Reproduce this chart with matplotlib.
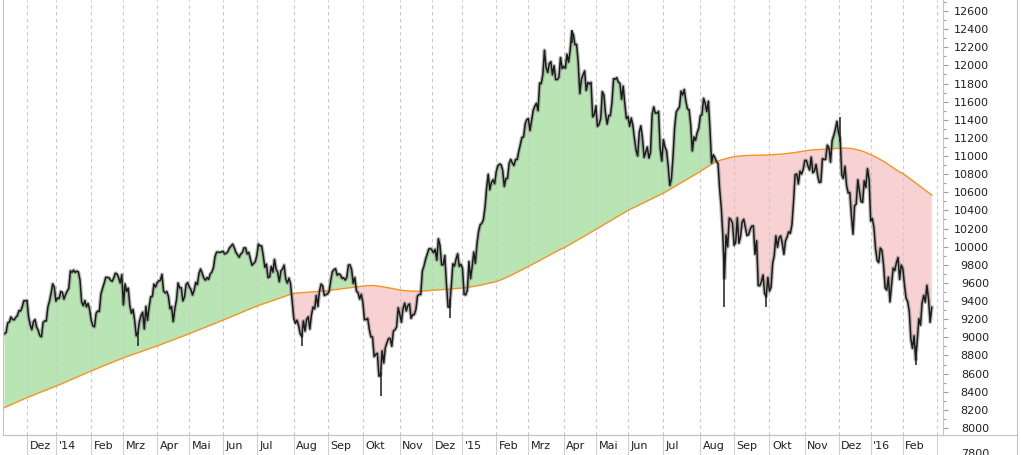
import numpy as np
import pandas as pd
import matplotlib
matplotlib.use("Agg")
import matplotlib.pyplot as plt
from matplotlib.lines import Line2D
from matplotlib.ticker import MultipleLocator
from matplotlib.transforms import ScaledTranslation

# trading calendar (Xetra), the axis runs a few days past the last bar
START, END, AXIS_END = "2013-11-12", "2016-02-25", "2016-03-04"
HOLIDAYS = ["2013-12-24", "2013-12-25", "2013-12-26", "2013-12-31", "2014-01-01",
            "2014-04-18", "2014-04-21", "2014-05-01", "2014-12-24", "2014-12-25",
            "2014-12-26", "2014-12-31", "2015-01-01", "2015-04-03", "2015-04-06",
            "2015-05-01", "2015-12-24", "2015-12-25", "2015-12-31", "2016-01-01"]

MONTH_LABELS = ["Dez", "'14", "Feb", "Mrz", "Apr", "Mai", "Jun", "Jul", "Aug", "Sep",
                "Okt", "Nov", "Dez", "'15", "Feb", "Mrz", "Apr", "Mai", "Jun", "Jul",
                "Aug", "Sep", "Okt", "Nov", "Dez", "'16", "Feb", ""]

# daily closes, one row per month
CLOSE = [
    9040, 9055, 9160, 9168, 9225, 9198, 9193, 9220, 9240, 9295, 9291, 9335, 9403, 9405,
    9406, 9225, 9140, 9085, 9172, 9197, 9114, 9077, 9018, 9006, 9164, 9182, 9181, 9336, 9400, 9489, 9590, 9552,
    9400, 9435, 9428, 9506, 9497, 9422, 9473, 9510, 9540, 9733, 9717, 9742, 9716, 9730, 9720, 9631, 9392, 9349, 9406, 9336, 9374, 9306,
    9186, 9128, 9116, 9265, 9290, 9285, 9478, 9540, 9596, 9662, 9660, 9659, 9630, 9618, 9656, 9708, 9699, 9661, 9600, 9692,
    9358, 9589, 9507, 9543, 9350, 9265, 9308, 9188, 9017, 9056, 9180, 9242, 9277, 9093, 9342, 9188, 9338, 9448, 9451, 9587, 9556,
    9603, 9623, 9629, 9695, 9510, 9490, 9506, 9454, 9315, 9339, 9173, 9317, 9409, 9600, 9545, 9548, 9401, 9446, 9584, 9603,
    9556, 9529, 9467, 9521, 9607, 9581, 9703, 9754, 9710, 9656, 9630, 9659, 9639, 9697, 9720, 9768, 9892, 9940, 9939, 9938, 9943,
    9950, 9920, 9927, 9947, 9987, 10008, 10028, 9990, 9938, 9912, 9883, 9920, 9935, 9987, 9987, 9920, 9938, 9867, 9795, 9815, 9833,
    9902, 10029, 10009, 10009, 9906, 9772, 9808, 9659, 9666, 9783, 9719, 9859, 9753, 9720, 9613, 9734, 9753, 9797, 9644, 9599, 9653, 9593, 9407,
    9210, 9154, 9189, 9130, 9039, 9010, 9181, 9069, 9198, 9226, 9092, 9245, 9334, 9314, 9461, 9340, 9510, 9588, 9569, 9462, 9470,
    9479, 9507, 9627, 9724, 9747, 9758, 9686, 9700, 9691, 9651, 9659, 9632, 9661, 9798, 9799, 9749, 9595, 9661, 9510, 9490, 9422, 9474,
    9382, 9195, 9195, 9209, 9086, 9005, 9005, 8788, 8812, 8825, 8572, 8582, 8850, 8717, 8886, 8940, 8987, 8988, 8902, 9068, 9083, 9114, 9326,
    9251, 9166, 9315, 9377, 9291, 9351, 9369, 9210, 9248, 9252, 9306, 9456, 9473, 9472, 9732, 9785, 9861, 9915, 9974, 9980,
    9963, 9934, 9971, 9851, 10087, 10014, 9799, 9800, 9903, 9594, 9335, 9334, 9563, 9811, 9787, 9865, 9922, 9783, 9806,
    9764, 9473, 9469, 9518, 9837, 9648, 9781, 9941, 9817, 10032, 10168, 10242, 10257, 10299, 10435, 10649, 10798, 10628, 10710, 10738, 10694,
    10828, 10891, 10911, 10905, 10846, 10664, 10752, 10753, 10919, 10963, 10924, 10895, 10962, 10961, 11050, 11130, 11206, 11210, 11355, 11402,
    11413, 11281, 11390, 11504, 11550, 11582, 11500, 11806, 11799, 11901, 12167, 11980, 11922, 12019, 12040, 11896, 11996, 11843, 11844, 11868, 12086, 11966,
    11989, 11968, 12123, 12036, 12166, 12375, 12339, 12227, 12231, 12039, 11689, 11850, 11896, 11939, 11723, 11811, 11795, 11812, 11432, 11454,
    11553, 11327, 11350, 11416, 11710, 11673, 11472, 11352, 11447, 11447, 11591, 11853, 11848, 11864, 11815, 11800, 11625, 11771, 11578, 11413,
    11436, 11328, 11419, 11340, 11197, 11064, 11001, 11265, 11333, 11197, 10985, 11044, 11100, 10978, 11040, 11461, 11542, 11472, 11473, 11492, 11084, 10945,
    11181, 11100, 11058, 10890, 10676, 10747, 10997, 11316, 11485, 11516, 11540, 11716, 11674, 11734, 11604, 11520, 11512, 11347, 11056, 11211, 11173, 11257, 11308,
    11444, 11456, 11636, 11585, 11490, 11604, 11293, 10924, 11014, 10985, 10940, 10915, 10636, 10432, 10124, 9648, 10128, 9998, 10316, 10298, 10259,
    10016, 10048, 10318, 10038, 10108, 10271, 10303, 10210, 10123, 10131, 10188, 10227, 10229, 9916, 10066, 9571, 9570, 9612, 9688, 9483, 9450, 9660,
    9510, 9553, 9814, 9902, 10119, 9993, 10097, 10119, 10033, 9915, 10065, 10105, 10165, 10147, 10239, 10492, 10795, 10801, 10692, 10832, 10801, 10850,
    10951, 10951, 10887, 10845, 10988, 10815, 10833, 10907, 10782, 10708, 10713, 10971, 10960, 10963, 11120, 11092, 10933, 11169, 11226, 11294, 11382,
    11261, 11190, 10789, 10752, 10887, 10673, 10592, 10598, 10340, 10139, 10451, 10470, 10738, 10608, 10497, 10489, 10727, 10653, 10860, 10743,
    10283, 10310, 10214, 9979, 9849, 9825, 9985, 9960, 9794, 9545, 9521, 9664, 9391, 9574, 9764, 9736, 9822, 9880, 9639, 9798,
    9757, 9581, 9434, 9393, 9286, 8979, 8879, 9017, 8752, 8967, 9206, 9135, 9377, 9463, 9388, 9573, 9416, 9167, 9331,
]

# 200-day moving average as drawn (orange line), one row per month
MA200 = [
    8225, 8233, 8241, 8249, 8256, 8264, 8272, 8280, 8288, 8296, 8304, 8311, 8319, 8327,
    8335, 8342, 8349, 8356, 8363, 8370, 8377, 8384, 8391, 8398, 8404, 8411, 8418, 8425, 8432, 8439, 8446, 8453,
    8460, 8468, 8475, 8483, 8491, 8499, 8506, 8514, 8522, 8530, 8537, 8545, 8553, 8561, 8568, 8576, 8584, 8591, 8599, 8607, 8615, 8622,
    8630, 8637, 8645, 8652, 8659, 8666, 8674, 8681, 8688, 8695, 8703, 8710, 8717, 8724, 8732, 8739, 8746, 8753, 8761, 8768,
    8775, 8781, 8787, 8794, 8800, 8806, 8812, 8818, 8825, 8831, 8837, 8843, 8849, 8855, 8862, 8868, 8874, 8880, 8886, 8893, 8899,
    8905, 8912, 8919, 8925, 8932, 8939, 8946, 8952, 8959, 8966, 8973, 8979, 8986, 8993, 9000, 9006, 9013, 9020, 9027, 9033,
    9040, 9047, 9054, 9061, 9069, 9076, 9083, 9090, 9097, 9104, 9111, 9119, 9126, 9133, 9140, 9147, 9154, 9161, 9169, 9176, 9183,
    9190, 9197, 9205, 9212, 9220, 9227, 9234, 9242, 9249, 9256, 9264, 9271, 9279, 9286, 9293, 9301, 9308, 9315, 9323, 9330, 9338,
    9345, 9351, 9357, 9363, 9370, 9376, 9382, 9388, 9394, 9400, 9406, 9412, 9419, 9425, 9431, 9437, 9443, 9449, 9455, 9461, 9468, 9474, 9480,
    9486, 9487, 9489, 9490, 9492, 9493, 9494, 9496, 9497, 9498, 9500, 9501, 9503, 9504, 9505, 9507, 9508, 9509, 9511, 9512, 9514,
    9515, 9517, 9520, 9522, 9524, 9527, 9529, 9531, 9534, 9536, 9538, 9541, 9543, 9545, 9547, 9550, 9552, 9554, 9557, 9559, 9561, 9564,
    9566, 9568, 9569, 9570, 9571, 9572, 9572, 9571, 9569, 9567, 9565, 9562, 9559, 9556, 9553, 9550, 9547, 9544, 9540, 9537, 9533, 9530, 9526,
    9522, 9520, 9518, 9516, 9514, 9512, 9511, 9510, 9509, 9508, 9508, 9508, 9508, 9509, 9510, 9511, 9512, 9514, 9516, 9518,
    9519, 9520, 9521, 9522, 9523, 9524, 9526, 9527, 9528, 9530, 9531, 9532, 9534, 9535, 9537, 9538, 9540, 9541, 9543,
    9545, 9547, 9549, 9551, 9553, 9556, 9559, 9562, 9565, 9568, 9571, 9575, 9579, 9583, 9587, 9591, 9595, 9599, 9603, 9607, 9611,
    9615, 9621, 9628, 9635, 9642, 9650, 9658, 9666, 9674, 9682, 9691, 9700, 9709, 9718, 9727, 9736, 9745, 9754, 9763, 9772,
    9781, 9791, 9800, 9810, 9819, 9829, 9838, 9848, 9857, 9867, 9876, 9886, 9895, 9905, 9914, 9924, 9933, 9943, 9952, 9962, 9971, 9980,
    9985, 9995, 10006, 10016, 10026, 10036, 10047, 10057, 10067, 10077, 10088, 10098, 10108, 10118, 10129, 10139, 10149, 10159, 10170, 10180,
    10190, 10201, 10211, 10222, 10232, 10243, 10253, 10264, 10274, 10285, 10295, 10306, 10316, 10327, 10337, 10348, 10358, 10369, 10379, 10390,
    10400, 10409, 10417, 10426, 10435, 10443, 10452, 10460, 10469, 10478, 10486, 10495, 10504, 10512, 10521, 10530, 10538, 10547, 10555, 10564, 10573, 10581,
    10590, 10600, 10611, 10621, 10632, 10642, 10653, 10663, 10673, 10684, 10694, 10705, 10715, 10726, 10736, 10746, 10757, 10767, 10778, 10788, 10799, 10809, 10820,
    10830, 10842, 10854, 10866, 10877, 10888, 10899, 10910, 10920, 10930, 10940, 10946, 10952, 10957, 10962, 10967, 10972, 10977, 10982, 10986, 10990,
    10993, 10995, 10997, 10999, 11001, 11003, 11004, 11005, 11006, 11007, 11008, 11008, 11009, 11009, 11009, 11009, 11009, 11010, 11010, 11010, 11011, 11011,
    11012, 11013, 11014, 11015, 11016, 11017, 11018, 11020, 11022, 11024, 11026, 11028, 11030, 11032, 11034, 11036, 11039, 11042, 11045, 11048, 11051, 11054,
    11058, 11060, 11062, 11064, 11066, 11068, 11069, 11070, 11071, 11072, 11073, 11074, 11075, 11076, 11077, 11078, 11079, 11080, 11081, 11082, 11084,
    11085, 11086, 11087, 11088, 11088, 11087, 11086, 11084, 11082, 11079, 11076, 11072, 11068, 11063, 11058, 11052, 11046, 11039, 11032, 11024,
    11016, 11008, 11000, 10991, 10982, 10972, 10962, 10952, 10941, 10930, 10919, 10907, 10895, 10883, 10871, 10859, 10847, 10835, 10823, 10816,
    10809, 10796, 10782, 10769, 10756, 10742, 10729, 10716, 10703, 10689, 10676, 10663, 10649, 10636, 10623, 10609, 10596, 10583, 10570,
]

# intraday extremes that stick out of the close line
WICK_DATES = ["2014-03-14", "2014-08-08", "2014-10-16", "2014-12-16", "2015-04-10",
              "2015-08-24", "2015-09-29", "2015-12-02", "2016-02-11"]
WICK_LOW = [8903, 8903, 8355, 9219, 12250, 9338, 9338, 11150, 8699]
WICK_HIGH = [9060, 9040, 8620, 9420, 12390, 9930, 9470, 11430, 8900]

GREEN = "#b9e4b4"
PINK = "#f8d2d2"
ORANGE = "#f7931e"
GRID = "#c8c8c8"
FRAME = "#c4c4c4"

W, H = 1021, 455
axis_days = pd.bdate_range(START, AXIS_END, freq="C", holidays=HOLIDAYS)
n = len(pd.bdate_range(START, END, freq="C", holidays=HOLIDAYS))
assert n == len(CLOSE) == len(MA200), (n, len(CLOSE), len(MA200))

x = np.arange(n)
close = np.array(CLOSE, dtype=float)
ma = np.array(MA200, dtype=float)

per = axis_days.to_period("M")
month_starts = np.flatnonzero(per[1:] != per[:-1]) + 1

fig = plt.figure(figsize=(W / 100, H / 100), dpi=100)
ax = fig.add_axes([3 / W, 20 / H, 940 / W, 435 / H])

ax.fill_between(x, close, ma, where=close >= ma, interpolate=True, color=GREEN, lw=0)
ax.fill_between(x, close, ma, where=close < ma, interpolate=True, color=PINK, lw=0)
ax.plot(x, ma, color=ORANGE, lw=1.0)
# bars: gray halo under a dark line
ax.plot(x, close, color="#7a7a7a", lw=2.8, alpha=0.5)
ax.plot(x, close, color="#1c1c1c", lw=1.1)
wick_x = axis_days.get_indexer(pd.to_datetime(WICK_DATES))
ax.vlines(wick_x, WICK_LOW, WICK_HIGH, color="#1c1c1c", lw=1.1)

ax.set_xlim(-0.93, 584)
ax.set_ylim(7923, 12721)

# y axis on the right, labels right aligned
ax.yaxis.tick_right()
ax.yaxis.set_major_locator(MultipleLocator(200))
ax.yaxis.set_minor_locator(MultipleLocator(100))
ax.tick_params(axis="y", which="major", direction="out", length=3.6, width=0.8,
               color="#a0a0a0", labelsize=8, labelcolor="#202020", pad=29.5)
ax.tick_params(axis="y", which="minor", direction="out", length=2.4, width=0.8, color="#a0a0a0")
for lbl in ax.get_yticklabels():
    lbl.set_horizontalalignment("right")

# month separators: dashed in the plot, solid in the label row
ax.set_xticks(month_starts, labels=MONTH_LABELS[:len(month_starts)])
ax.tick_params(axis="x", direction="out", length=14.4, width=0.8, color="#d0d0d0",
               labelsize=8, labelcolor="#202020", pad=-10)
shift = ScaledTranslation(2.5 / 100, 0, fig.dpi_scale_trans)
for lbl in ax.get_xticklabels():
    lbl.set_horizontalalignment("left")
    lbl.set_transform(lbl.get_transform() + shift)
ax.grid(axis="x", color=GRID, lw=0.8, linestyle=(0, (3, 3)))

ax.spines["top"].set_visible(False)
for side in ["left", "right", "bottom"]:
    ax.spines[side].set_color(FRAME)
    ax.spines[side].set_linewidth(0.8)

fig.add_artist(Line2D([3 / W, 1017 / W], [20 / H, 20 / H], color=FRAME, lw=0.8))
fig.add_artist(Line2D([1017 / W, 1017 / W], [0, 1], color=FRAME, lw=0.8))
fig.text(989 / W, 6 / H, "7800", ha="right", va="top", fontsize=8, color="#202020")

fig.savefig("out.png", dpi=100)
